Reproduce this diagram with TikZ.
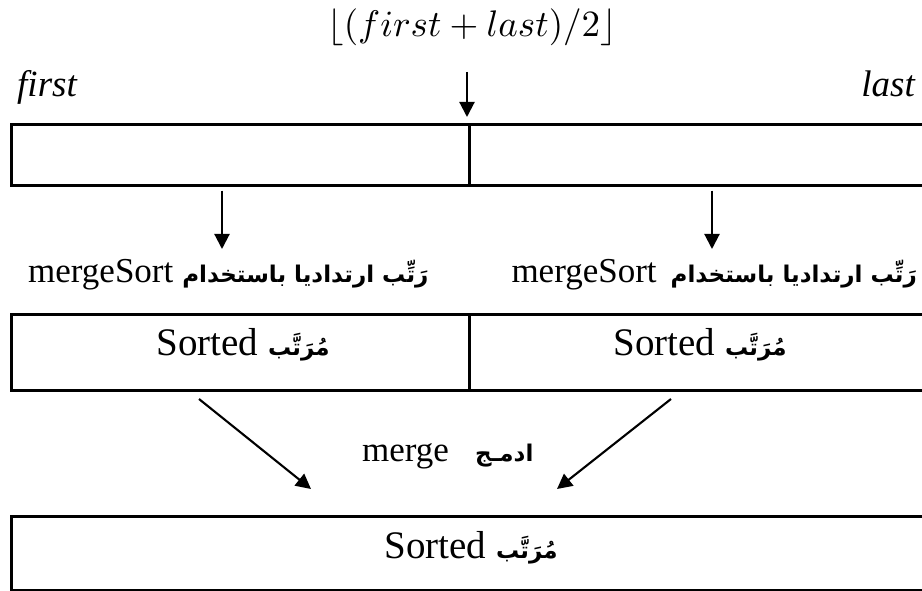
\documentclass[tikz,border=0pt]{standalone}
\usepackage{graphicx}
\usepackage{fontspec}
\setmainfont{Liberation Serif}
\newfontfamily\arabicfont[Script=Arabic]{DejaVu Sans}
\TeXXeTstate=1
\usetikzlibrary{arrows.meta}
\newcommand{\ar}[1]{{\arabicfont\bfseries\fontsize{23}{28}\selectfont\beginR #1\endR}}
\begin{document}
\begin{tikzpicture}[x=1pt,y=-1pt,
  cell/.style={draw,line width=2.6pt,inner sep=0pt,anchor=north west},
  arr/.style={line width=2.1pt,-{Triangle[width=15pt,length=15pt]}},
  lbl/.style={inner sep=0pt,font=\fontsize{35}{40}\selectfont},
  srt/.style={inner sep=0pt,font=\fontsize{39}{44}\selectfont}]
\useasboundingbox (0,0) rectangle (922,591);
% formula for the middle index
\node[inner sep=0pt] (mid) at (472,27)
  {\scalebox{3.7}{$\lfloor(first+last)/2\rfloor$}};
\node[inner sep=0pt,anchor=base west,font=\fontsize{37}{42}\selectfont\itshape] (first) at (17,97) {first};
\node[inner sep=0pt,anchor=base east,font=\fontsize{37}{42}\selectfont\itshape] (last) at (915,97) {last};
% unsorted array split in two halves
\node[cell,minimum width=458pt,minimum height=61pt] (tl) at (10,123) {};
\node[cell,minimum width=458pt,minimum height=61pt] (tr) at (468,123) {};
\coordinate (midtop) at (467,72);
\coordinate (midtip) at (467,117);
\draw[arr] (midtop) -- (midtip);
% recursive calls
\coordinate (la) at (222,249);
\coordinate (ra) at (712,249);
\draw[arr] (tl.south -| la) ++(0,4) -- (la);
\draw[arr] (tr.south -| ra) ++(0,4) -- (ra);
\node[lbl,anchor=base west] (rl) at (28,282) {mergeSort\hspace{9pt}\ar{رَتِّب ارتداديا باستخدام}};
\node[lbl,anchor=base east] (rr) at (917,282) {mergeSort\hspace{14pt}\ar{رَتِّب ارتداديا باستخدام}};
% sorted halves
\node[cell,minimum width=458pt,minimum height=76pt] (ml) at (10,313) {};
\node[cell,minimum width=458pt,minimum height=76pt] (mr) at (468,313) {};
\node[srt,anchor=base] (sl) at (243,355) {Sorted \ar{مُرَتَّب}};
\node[srt,anchor=base] (sr) at (700,355) {Sorted \ar{مُرَتَّب}};
% merge step
\coordinate (ls) at (199,399);
\coordinate (le) at (311,489);
\coordinate (rs) at (671,399);
\coordinate (re) at (557,489);
\draw[arr] (ls) -- (le);
\draw[arr] (rs) -- (re);
\node[lbl,anchor=base west] (mg) at (362,461) {merge\hspace{26pt}\ar{ادمـج}};
% merged result
\node[cell,minimum width=915pt,minimum height=74pt] (bot) at (10,515) {};
\node[srt,anchor=base] (sb) at (471,558) {Sorted \ar{مُرَتَّب}};
\end{tikzpicture}
\end{document}
